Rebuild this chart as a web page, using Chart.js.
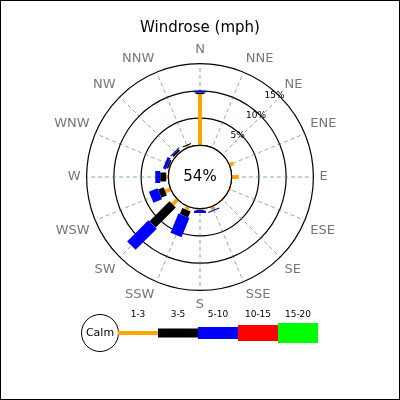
<!DOCTYPE html>
<html>
<head>
<meta charset="utf-8">
<script src="https://cdn.jsdelivr.net/npm/chart.js@4/dist/chart.umd.min.js"></script>
<style>
  html, body { margin: 0; padding: 0; background: #fff; }
  #wrap { width: 398px; height: 398px; border: 1px solid #000; }
</style>
</head>
<body>
<div id="wrap"><canvas id="c" width="398" height="398"></canvas></div>
<script>
const directions = ['N', 'NNE', 'NE', 'ENE', 'E', 'ESE', 'SE', 'SSE', 'S', 'SSW', 'SW', 'WSW', 'W', 'WNW', 'NW', 'NNW'];
const speedBins = ['1-3', '3-5', '5-10', '10-15', '15-20'];
const binColors = ['#FFA500', '#000000', '#0000FF', '#FF0000', '#00FF00'];
const binWidths = [4, 9, 12, 16, 20];
// percent of time per direction, per speed bin
const speed1to3 = [9.4, 0, 0, 0.8, 1.3, 0.3, 0.2, 0.7, 0.2, 0.7, 1.3, 1.1, 0.4, 0.2, 0.2, 0.4];
const speed3to5 = [0.3, 0, 0, 0, 0, 0, 0, 0, 0.2, 1.2, 5.2, 1.1, 1.1, 0.3, 0.4, 0.2];
const speed5to10 = [0.3, 0, 0, 0, 0, 0, 0, 0.2, 0.4, 3.8, 5.5, 1.7, 0.9, 0.6, 0.2, 0];
const speed10to15 = [0, 0, 0, 0, 0, 0, 0, 0, 0, 0, 0, 0, 0, 0, 0, 0];
const speed15to20 = [0, 0, 0, 0, 0, 0, 0, 0, 0, 0, 0, 0, 0, 0, 0, 0];
const calmPct = '54%';
const ringTicks = [0, 5, 10, 15];
const holeMin = -5.8;

const series = [speed1to3, speed3to5, speed5to10, speed10to15, speed15to20];

// hole, stacked bars and legend drawn on top of the radial scale
const windrose = {
  id: 'windrose',
  beforeDatasetsDraw(chart) {
    const ctx = chart.ctx;
    const r = chart.scales.r;
    const cum = directions.map(() => 0);
    ctx.save();
    ctx.lineCap = 'butt';
    series.forEach((vals, b) => {
      ctx.strokeStyle = binColors[b];
      ctx.lineWidth = binWidths[b];
      vals.forEach((v, i) => {
        if (!v) return;
        const p0 = r.getPointPositionForValue(i, cum[i]);
        const p1 = r.getPointPositionForValue(i, cum[i] + v);
        ctx.beginPath();
        ctx.moveTo(p0.x, p0.y);
        ctx.lineTo(p1.x, p1.y);
        ctx.stroke();
        cum[i] += v;
      });
    });
    // calm hole
    const hr = r.getDistanceFromCenterForValue(0);
    ctx.beginPath();
    ctx.arc(r.xCenter, r.yCenter, hr, 0, Math.PI * 2);
    ctx.fillStyle = '#fff';
    ctx.fill();
    ctx.lineWidth = 1.2;
    ctx.strokeStyle = '#000';
    ctx.stroke();
    ctx.fillStyle = '#000';
    ctx.font = '15px "DejaVu Sans"';
    ctx.textAlign = 'center';
    ctx.textBaseline = 'middle';
    ctx.fillText(calmPct, r.xCenter, r.yCenter);
    // ring labels along the NE diagonal
    ctx.font = '9px "DejaVu Sans"';
    const a = -Math.PI / 2 + 0.74;
    [5, 10, 15].forEach(t => {
      const d = r.getDistanceFromCenterForValue(t) - 3;
      ctx.fillText(t + '%', r.xCenter + d * Math.cos(a), r.yCenter + d * Math.sin(a));
    });
    ctx.restore();
  },
  afterDraw(chart) {
    const ctx = chart.ctx;
    const cy = 332;
    ctx.save();
    ctx.beginPath();
    ctx.arc(99, cy, 18.5, 0, Math.PI * 2);
    ctx.fillStyle = '#fff';
    ctx.fill();
    ctx.strokeStyle = '#000';
    ctx.lineWidth = 1;
    ctx.stroke();
    ctx.fillStyle = '#000';
    ctx.font = '11px "DejaVu Sans"';
    ctx.textAlign = 'center';
    ctx.textBaseline = 'middle';
    ctx.fillText('Calm', 99, cy);
    ctx.font = '9px "DejaVu Sans"';
    speedBins.forEach((lab, b) => {
      const x0 = 117 + b * 40;
      ctx.fillStyle = binColors[b];
      ctx.fillRect(x0, cy - binWidths[b] / 2, 40, binWidths[b]);
      ctx.fillStyle = '#000';
      ctx.fillText(lab, x0 + 20, 314);
    });
    ctx.restore();
  }
};

new Chart(document.getElementById('c'), {
  type: 'radar',
  data: {
    labels: directions,
    datasets: speedBins.map((lab, b) => ({
      label: lab,
      data: series[b],
      showLine: false,
      pointRadius: 0,
      borderWidth: 0,
      backgroundColor: 'transparent'
    }))
  },
  options: {
    responsive: false,
    animation: false,
    layout: { padding: { top: 12, bottom: 86, left: 34, right: 34 } },
    plugins: {
      legend: { display: false },
      tooltip: { enabled: false },
      title: {
        display: true,
        text: 'Windrose (mph)',
        color: '#000',
        font: { family: 'DejaVu Sans', size: 15, weight: 'normal' },
        padding: { top: 6, bottom: 6 }
      }
    },
    scales: {
      r: {
        min: holeMin,
        max: 15,
        afterBuildTicks(s) { s.ticks = [{ value: holeMin }].concat(ringTicks.map(v => ({ value: v }))); },
        ticks: { display: false },
        grid: { circular: true, color: '#000', lineWidth: 1.2 },
        angleLines: { color: '#2e8b2e', lineWidth: 0.6, borderDash: [4, 3] },
        pointLabels: { color: '#777', font: { family: 'DejaVu Sans', size: 13 }, padding: 6 }
      }
    }
  },
  plugins: [windrose]
});
</script>
</body>
</html>
